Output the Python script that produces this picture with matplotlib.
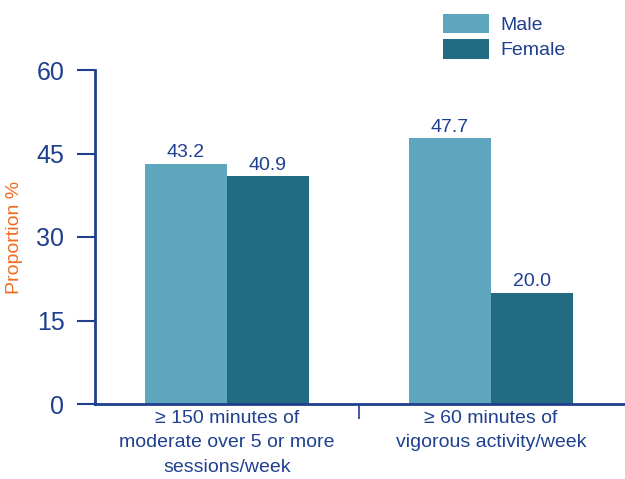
import numpy as np
import matplotlib.pyplot as plt

# données
categories = ["\u2265 150 minutes of\nmoderate over 5 or more\nsessions/week",
              "\u2265 60 minutes of\nvigorous activity/week"]
male = [43.2, 47.7]
female = [40.9, 20.0]
yticks = [0, 15, 30, 45, 60]

navy = "#1f3f8f"
c_male = "#5ea6bd"
c_female = "#216c82"

plt.rcParams['font.family'] = ['Liberation Sans', 'DejaVu Sans']

fig = plt.figure(figsize=(6.25, 4.79), dpi=100)
ax = fig.add_axes([95/625, 1 - 404/479, 530/625, 334/479])

x = np.arange(len(categories))
w = 0.31
b1 = ax.bar(x - w/2, male, w, color=c_male, label="Male")
b2 = ax.bar(x + w/2, female, w, color=c_female, label="Female")

for bars, vals in [(b1, male), (b2, female)]:
    for r, v in zip(bars, vals):
        ax.annotate("%.1f" % v, (r.get_x() + r.get_width()/2, r.get_height()),
                    xytext=(0, 2), textcoords="offset points",
                    ha="center", va="bottom", fontsize=14, color=navy)

ax.set_xlim(-0.5, 1.508)
ax.set_ylim(0, 60)
ax.set_yticks(yticks)
ax.tick_params(axis='y', length=13, width=1.5, color=navy, labelcolor=navy,
               labelsize=18, pad=9)
ax.set_xticks(x)
ax.set_xticklabels(categories, fontsize=14, color=navy, linespacing=1.6)
ax.tick_params(axis='x', length=0, pad=4)
ax.set_xticks([0.5], minor=True)
ax.tick_params(axis='x', which='minor', length=11, width=1.2, color=navy)

for s in ["top", "right"]:
    ax.spines[s].set_visible(False)
for s in ["left", "bottom"]:
    ax.spines[s].set_color(navy)
    ax.spines[s].set_linewidth(2)

ax.set_ylabel("Proportion %", color="#f26b1d", fontsize=14, labelpad=10)

ax.legend(loc="upper left", bbox_to_anchor=(425/625, 1 + 4/479),
          bbox_transform=fig.transFigure, frameon=False, fontsize=14,
          handlelength=2.4, handleheight=1.2, labelspacing=0.25,
          handletextpad=0.6, labelcolor=navy)

fig.savefig("out.png", dpi=100)
